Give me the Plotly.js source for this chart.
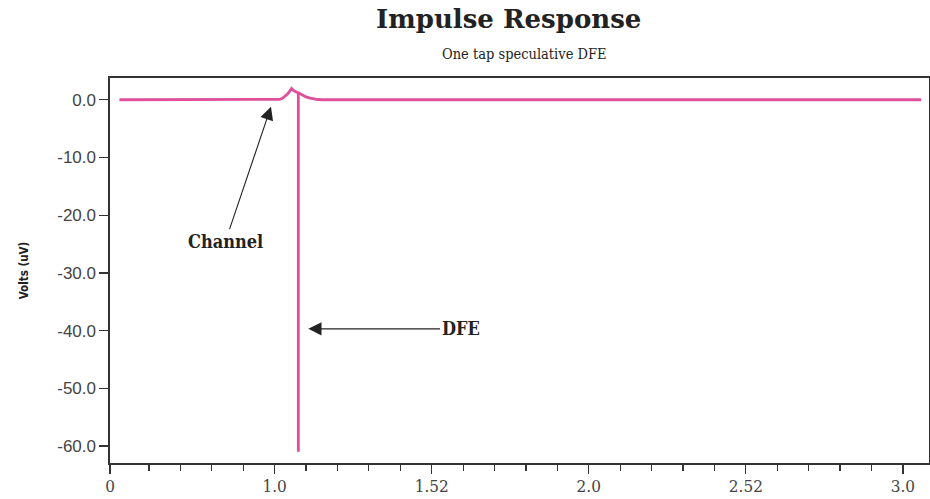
<!DOCTYPE html>
<html>
<head>
<meta charset="utf-8">
<script src="https://cdn.plot.ly/plotly-3.0.1.min.js"></script>
<style>
  html, body { margin: 0; padding: 0; background: #ffffff; }
  #chart { width: 930px; height: 499px; }
</style>
</head>
<body>
<div id="chart"></div>
<script>
// ---- data ----
const channelX = [0.506, 0.992, 1.005, 1.016, 1.025, 1.033, 1.041, 1.048, 1.054, 1.058, 1.064, 1.0755, 1.087, 1.100, 1.113, 1.126, 1.138, 1.151, 3.058];
const channelY = [0.0,   0.0,   0.02,  0.08,  0.25,  0.55,  1.0,   1.5,   1.95,  1.7,   1.45,  1.2,    0.85,  0.5,   0.28,  0.12,  0.04,  0.0,   0.0];
const dfeX = [1.0755, 1.0755];
const dfeY = [1.2, -61.0];

const xTickVals = [0.476, 1.0, 1.5, 2.0, 2.5, 3.0];
const xTickText = ['0', '1.0', '1.52', '2.0', '2.52', '3.0'];
const xMinorVals = [0.6, 0.7, 0.8, 0.9, 1.1, 1.2, 1.3, 1.4, 1.6, 1.7, 1.8, 1.9, 2.1, 2.2, 2.3, 2.4, 2.6, 2.7, 2.8, 2.9];
const yTickVals = [0, -10, -20, -30, -40, -50, -60];
const yTickText = ['0.0', '-10.0', '-20.0', '-30.0', '-40.0', '-50.0', '-60.0'];

const titleText = 'Impulse Response';
const subtitleText = 'One tap speculative DFE';
const yTitle = 'Volts (uV)';
const channelLabel = 'Channel';
const dfeLabel = 'DFE';

// ---- styling ----
const pink = '#df4f9c';
const axisColor = '#333333';
const slab = '"DejaVu Serif Condensed", "DejaVu Serif", serif';

const traces = [
  { x: channelX, y: channelY, type: 'scatter', mode: 'lines',
    line: { color: pink, width: 2.8, shape: 'linear' }, hoverinfo: 'skip' },
  { x: dfeX, y: dfeY, type: 'scatter', mode: 'lines',
    line: { color: pink, width: 2.8 }, hoverinfo: 'skip' }
];

const layout = {
  width: 930, height: 499,
  margin: { l: 110, r: 1, t: 78, b: 36, pad: 0 },
  paper_bgcolor: '#ffffff', plot_bgcolor: '#ffffff',
  showlegend: false,
  title: {
    text: '<b>' + titleText + '</b>',
    font: { family: '"DejaVu Serif", serif', size: 26, color: '#222222' },
    x: 0.547, xanchor: 'center', y: 0.962, yanchor: 'middle'
  },
  xaxis: {
    range: [0.476, 3.083],
    tickmode: 'array', tickvals: xTickVals, ticktext: xTickText,
    ticks: 'outside', ticklen: 9, tickwidth: 1.3, tickcolor: axisColor,
    minor: { tickmode: 'array', tickvals: xMinorVals, ticks: 'outside', ticklen: 6, tickwidth: 1.2, tickcolor: axisColor, showgrid: false },
    showline: true, linecolor: axisColor, linewidth: 1.6, mirror: true,
    showgrid: false, zeroline: false,
    ticklabelstandoff: -2,
    tickfont: { family: slab, size: 17, color: '#444444' }
  },
  yaxis: {
    range: [-62.95, 3.77],
    tickmode: 'array', tickvals: yTickVals, ticktext: yTickText,
    ticks: 'outside', ticklen: 9, tickwidth: 1.3, tickcolor: axisColor,
    showline: true, linecolor: axisColor, linewidth: 1.6, mirror: true,
    showgrid: false, zeroline: false,
    tickfont: { family: '"Liberation Sans", Arial, sans-serif', size: 17, color: '#444444' },
    title: { text: '<b>' + yTitle + '</b>', standoff: 26,
      font: { family: '"DejaVu Sans Condensed", "DejaVu Sans", sans-serif', size: 11.5, color: '#222222' } }
  },
  annotations: [
    { xref: 'paper', yref: 'paper', x: 0.5067, y: 1.063, xanchor: 'center', yanchor: 'middle',
      text: subtitleText, showarrow: false,
      font: { family: slab, size: 14.5, color: '#222222' } },
    { xref: 'x', yref: 'y', x: 0.9885, y: -1.2, axref: 'x', ayref: 'y', ax: 0.8437, ay: -24.5,
      text: '<b>' + channelLabel + '</b>', showarrow: true,
      arrowhead: 2, arrowsize: 2.4, arrowwidth: 1.1, arrowcolor: '#222222', standoff: 0,
      font: { family: slab, size: 18, color: '#222222' } },
    { xref: 'x', yref: 'y', x: 1.1073, y: -39.7, axref: 'x', ayref: 'y', ax: 1.592, ay: -39.7,
      text: '<b>' + dfeLabel + '</b>', showarrow: true,
      arrowhead: 2, arrowsize: 2.4, arrowwidth: 1.1, arrowcolor: '#222222', standoff: 0,
      font: { family: slab, size: 18, color: '#222222' } }
  ]
};

Plotly.newPlot('chart', traces, layout, { staticPlot: true, displayModeBar: false });
</script>
</body>
</html>
